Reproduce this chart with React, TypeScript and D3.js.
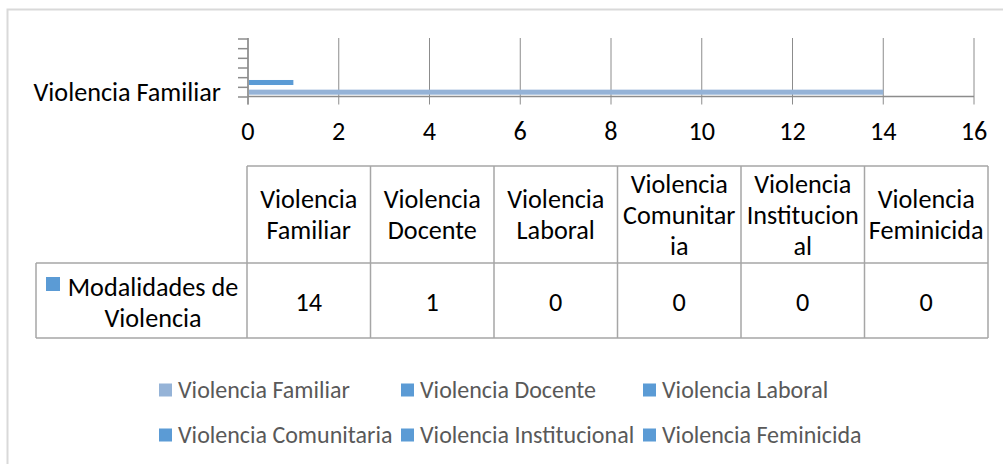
import React from "react";
import * as d3 from "d3";

const categories = [
  "Violencia Familiar",
  "Violencia Docente",
  "Violencia Laboral",
  "Violencia Comunitaria",
  "Violencia Institucional",
  "Violencia Feminicida",
];
const values = [14, 1, 0, 0, 0, 0];
const seriesName = ["Modalidades de", "Violencia"];
const xTicks = [0, 2, 4, 6, 8, 10, 12, 14, 16];
const headerLines = [
  ["Violencia", "Familiar"],
  ["Violencia", "Docente"],
  ["Violencia", "Laboral"],
  ["Violencia", "Comunitar", "ia"],
  ["Violencia", "Institucion", "al"],
  ["Violencia", "Feminicida"],
];
const barColors = ["#95B3D7", "#5B9BD5", "#5B9BD5", "#5B9BD5", "#5B9BD5", "#5B9BD5"];
const legendRows = [
  [0, 1, 2],
  [3, 4, 5],
];

const FONT = "Calibri, Carlito, Lato, sans-serif";
const FS = 26.2;
const LFS = 24;

export default function App() {
  const W = 1003;
  const H = 464;
  const x = d3.scaleLinear().domain([0, 16]).range([248, 974]);
  const ySlots = d3.scaleBand<string>().domain(categories).range([97, 39]).padding(0);
  const yBars = d3
    .scaleBand<string>()
    .domain(categories)
    .range([97, 39])
    .paddingInner(0.48)
    .paddingOuter(0.24);
  const col = d3.scaleBand<string>().domain(categories).range([247, 988]).padding(0);

  const axisTop = 38;
  const axisY = 96.5;
  const gridColor = "#8C8C8C";
  const tableColor = "#A6A6A6";
  const headTop = 166;
  const headBottom = 263;
  const rowBottom = 338;
  const lineH = 31;

  const slotEdges = [ySlots(categories[0])! + ySlots.bandwidth(), ...categories.map((c) => ySlots(c)!)];

  return (
    <svg
      width={W}
      height={H}
      style={{ position: "absolute", left: 0, top: 0, background: "#fff" }}
      fontFamily={FONT}
    >
      <rect x={0} y={0} width={W} height={H} fill="#fff" />
      {/* chart border */}
      <rect x={7.5} y={9.5} width={1100} height={600} fill="none" stroke="#D9D9D9" strokeWidth={2} />

      {/* gridlines + ticks */}
      {xTicks.map((t) => (
        <line key={"g" + t} x1={x(t)} x2={x(t)} y1={axisTop} y2={axisY + 8} stroke={gridColor} strokeWidth={1} />
      ))}
      {/* x axis line */}
      <line x1={x(0)} x2={x(16)} y1={axisY} y2={axisY} stroke={gridColor} strokeWidth={1.5} />
      {/* y axis line + ticks */}
      <line x1={x(0)} x2={x(0)} y1={axisTop} y2={axisY + 8} stroke={gridColor} strokeWidth={1.5} />
      {slotEdges.map((e, i) => (
        <line key={"yt" + i} x1={x(0) - 10} x2={x(0)} y1={e} y2={e} stroke={gridColor} strokeWidth={1.5} />
      ))}

      {/* bars */}
      {categories.map((c, i) => (
        <rect
          key={"b" + c}
          x={x(0) + 1}
          y={yBars(c)!}
          width={Math.max(0, x(values[i]) - x(0) - 1)}
          height={yBars.bandwidth()}
          fill={barColors[i]}
        />
      ))}

      {/* y category label (only the first fits) */}
      <text
        x={221}
        y={ySlots(categories[0])! + ySlots.bandwidth() / 2}
        dy="0.35em"
        textAnchor="end"
        fontSize={FS}
        fill="#000"
      >
        {categories[0]}
      </text>

      {/* x tick labels */}
      {xTicks.map((t) => (
        <text key={"xl" + t} x={x(t)} y={131} dy="0.35em" textAnchor="middle" fontSize={FS} fill="#000">
          {t}
        </text>
      ))}

      {/* data table */}
      <g stroke={tableColor} strokeWidth={1.5} fill="none">
        <line x1={247} x2={988} y1={headTop} y2={headTop} />
        <line x1={36} x2={988} y1={headBottom} y2={headBottom} />
        <line x1={36} x2={988} y1={rowBottom} y2={rowBottom} />
        <line x1={36} x2={36} y1={headBottom} y2={rowBottom} />
        {categories.map((c) => (
          <line key={"cl" + c} x1={col(c)!} x2={col(c)!} y1={headTop} y2={rowBottom} />
        ))}
        <line x1={988} x2={988} y1={headTop} y2={rowBottom} />
      </g>
      {categories.map((c, i) => {
        const lines = headerLines[i];
        const cx = col(c)! + col.bandwidth() / 2;
        const cy = (headTop + headBottom) / 2;
        return (
          <g key={"h" + c}>
            {lines.map((ln, j) => (
              <text
                key={j}
                x={cx}
                y={cy + (j - (lines.length - 1) / 2) * lineH}
                dy="0.35em"
                textAnchor="middle"
                fontSize={FS}
                fill="#000"
              >
                {ln}
              </text>
            ))}
            <text
              x={cx}
              y={(headBottom + rowBottom) / 2 + 1}
              dy="0.35em"
              textAnchor="middle"
              fontSize={FS}
              fill="#000"
            >
              {values[i]}
            </text>
          </g>
        );
      })}
      {/* row label */}
      <rect x={46} y={277} width={14} height={14} fill={barColors[1]} />
      {seriesName.map((s, j) => (
        <text key={"sn" + j} x={153} y={287 + j * lineH} dy="0.35em" textAnchor="middle" fontSize={FS} fill="#000">
          {s}
        </text>
      ))}

      {/* legend */}
      {legendRows.map((row, r) =>
        row.map((ci, k) => {
          const lx = [159, 401, 643][k];
          const ly = [390, 435][r];
          return (
            <g key={"lg" + ci}>
              <rect x={lx} y={ly - 6.5} width={13} height={13} fill={barColors[ci]} />
              <text x={lx + 19} y={ly} dy="0.35em" fontSize={LFS} fill="#595959">
                {categories[ci]}
              </text>
            </g>
          );
        })
      )}
    </svg>
  );
}
